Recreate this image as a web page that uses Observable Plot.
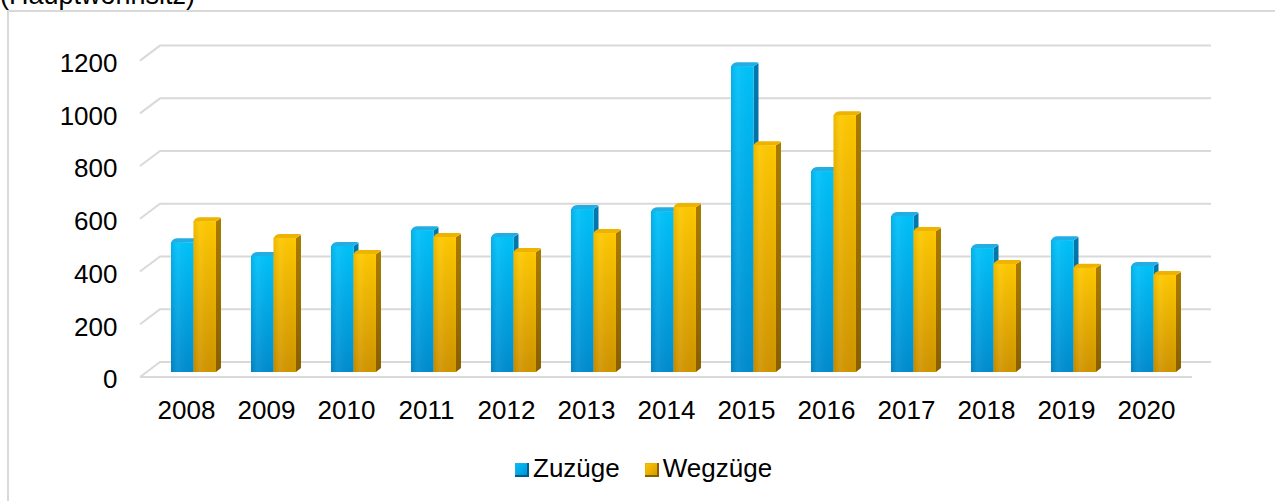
<!DOCTYPE html>
<html><head><meta charset="utf-8">
<script src="https://cdn.jsdelivr.net/npm/d3@7"></script>
<script src="https://cdn.jsdelivr.net/npm/@observablehq/plot@0.6"></script>
<style>
html,body{margin:0;padding:0;background:#fff;overflow:hidden;width:1275px;height:501px;font-family:"Liberation Sans",Arial,sans-serif;color:#000;}
#wrap{position:relative;width:1275px;height:501px;overflow:hidden;}
#title{position:absolute;left:0;top:-18px;font-size:27px;line-height:26px;white-space:nowrap;}
#chart{position:absolute;left:0;top:0;}
#frame{position:absolute;left:7px;top:10px;right:-5px;bottom:-5px;border-left:2px solid #d9d9d9;border-top:2px solid #d9d9d9;pointer-events:none;}
#legend{position:absolute;top:455px;left:515px;font-size:26px;line-height:26px;white-space:nowrap;}
#legend .sw{display:inline-block;width:14px;height:14px;vertical-align:baseline;box-sizing:border-box;}
</style>
</head><body>
<div id="wrap">
  <div id="title">(Hauptwohnsitz)</div>
  <div id="chart"></div>
  <div id="frame"></div>
  <div id="legend"></div>
</div>
<script>
const years = ["2008","2009","2010","2011","2012","2013","2014","2015","2016","2017","2018","2019","2020"];
const zuzuege = [492, 440, 478, 538, 512, 618, 610, 1160, 762, 592, 470, 500, 402];
const wegzuege = [572, 508, 448, 512, 455, 527, 626, 860, 974, 535, 410, 395, 368];
const seriesNames = ["Zuzüge", "Wegzüge"];
const yTicks = [0, 200, 400, 600, 800, 1000, 1200];

const seriesValues = [zuzuege, wegzuege];
const rows = [];
years.forEach((yr, i) => seriesNames.forEach((s, k) => rows.push({year: yr, series: s, k, value: seriesValues[k][i]})));

const palette = {
  "Zuzüge": {front: ["#00C2FA", "#008CD0"], side: ["#0079AE", "#005C8A"], cap: "#22AEE2", id: "b"},
  "Wegzüge": {front: ["#FFC800", "#D09400"], side: ["#A87B00", "#876000"], cap: "#EDB300", id: "y"}
};

function bwOf(x) { return typeof x.bandwidth === "function" ? x.bandwidth() : x.bandwidth; }

// back-wall gridlines with perspective corner, and floor front edge
function grid3d(index, scales) {
  const y = scales.y;
  const g = d3.create("svg:g").attr("fill", "none").attr("stroke", "#d9d9d9").attr("stroke-width", 2);
  for (const t of yTicks) {
    const yy = y(t);
    g.append("path").attr("d", `M140,${yy + 5}L160,${yy - 10}L1211,${yy - 10}`);
  }
  g.append("path").attr("d", `M140,${y(0) + 5}L1192,${y(0) + 5}`);
  return g.node();
}

function bars3d(index, scales) {
  const x = scales.x, y = scales.y;
  const bw = bwOf(x), half = bw / 2, dx = 5, dy = 4;
  const g = d3.create("svg:g");
  const defs = g.append("defs");
  for (const s of seriesNames) {
    const p = palette[s];
    const lf = defs.append("linearGradient").attr("id", "front-" + p.id).attr("x1", 0).attr("y1", 0).attr("x2", 0).attr("y2", 1);
    lf.append("stop").attr("offset", "0%").attr("stop-color", p.front[0]);
    lf.append("stop").attr("offset", "100%").attr("stop-color", p.front[1]);
    const ls = defs.append("linearGradient").attr("id", "side-" + p.id).attr("x1", 0).attr("y1", 0).attr("x2", 0).attr("y2", 1);
    ls.append("stop").attr("offset", "0%").attr("stop-color", p.side[0]);
    ls.append("stop").attr("offset", "100%").attr("stop-color", p.side[1]);
    const lh = defs.append("linearGradient").attr("id", "hl-" + p.id).attr("x1", 0).attr("y1", 0).attr("x2", 1).attr("y2", 0);
    lh.append("stop").attr("offset", "0%").attr("stop-color", "#000").attr("stop-opacity", 0.08);
    lh.append("stop").attr("offset", "30%").attr("stop-color", "#fff").attr("stop-opacity", 0.06);
    lh.append("stop").attr("offset", "100%").attr("stop-color", "#000").attr("stop-opacity", 0.0);
  }
  for (const d of rows) {
    const p = palette[d.series];
    const x1 = x(d.year) + d.k * half, x2 = x1 + half;
    const yt = y(d.value), yb = y(0);
    g.append("path").attr("fill", `url(#side-${p.id})`)
      .attr("d", `M${x2},${yt}L${x2 + dx},${yt - dy + 1}Q${x2 + dx},${yt - dy} ${x2 + dx},${yt - dy + 1}L${x2 + dx},${yb - dy}L${x2},${yb}Z`);
    g.append("path").attr("fill", p.cap)
      .attr("d", `M${x1},${yt + 1}Q${x1 + 1},${yt - dy} ${x1 + dx + 2},${yt - dy}L${x2 + dx - 2},${yt - dy}Q${x2 + dx},${yt - dy} ${x2 + dx},${yt - dy + 1}L${x2},${yt}Z`);
    g.append("rect").attr("x", x1).attr("y", yt).attr("width", half).attr("height", yb - yt)
      .attr("fill", `url(#front-${p.id})`);
    g.append("rect").attr("x", x1).attr("y", yt).attr("width", half).attr("height", yb - yt)
      .attr("fill", `url(#hl-${p.id})`);
  }
  return g.node();
}

const plot = Plot.plot({
  width: 1275,
  height: 440,
  marginLeft: 148.6,
  marginRight: 76.6,
  marginTop: 55.6,
  marginBottom: 68,
  style: {fontFamily: '"Liberation Sans", Arial, sans-serif', background: "transparent", overflow: "visible", color: "#000"},
  x: {type: "band", domain: years, paddingInner: 0.443, paddingOuter: 0.2215},
  y: {domain: [0, 1200]},
  marks: [
    grid3d,
    Plot.axisY(yTicks, {tickSize: 0, tickPadding: 31.6, fontSize: 26, dy: 7.5, tickFormat: d => String(d), label: null}),
    Plot.axisX(years, {tickSize: 0, tickPadding: 28.5, fontSize: 26, dx: -7.5, label: null}),
    bars3d
  ]
});
document.getElementById("chart").appendChild(plot);

const legend = document.getElementById("legend");
seriesNames.forEach((s, k) => {
  const p = palette[s];
  const sw = document.createElement("span");
  sw.className = "sw";
  sw.style.background = `linear-gradient(135deg, ${p.front[0]} 0%, ${p.front[1]} 100%)`;
  sw.style.boxShadow = `inset -2px -2px 0 ${p.side[1]}, inset 1px 1px 0 ${p.cap}`;
  const tx = document.createElement("span");
  tx.textContent = s;
  tx.style.marginLeft = "4px";
  tx.style.marginRight = k === 0 ? "25px" : "0";
  legend.appendChild(sw);
  legend.appendChild(tx);
});
</script>
</body></html>
